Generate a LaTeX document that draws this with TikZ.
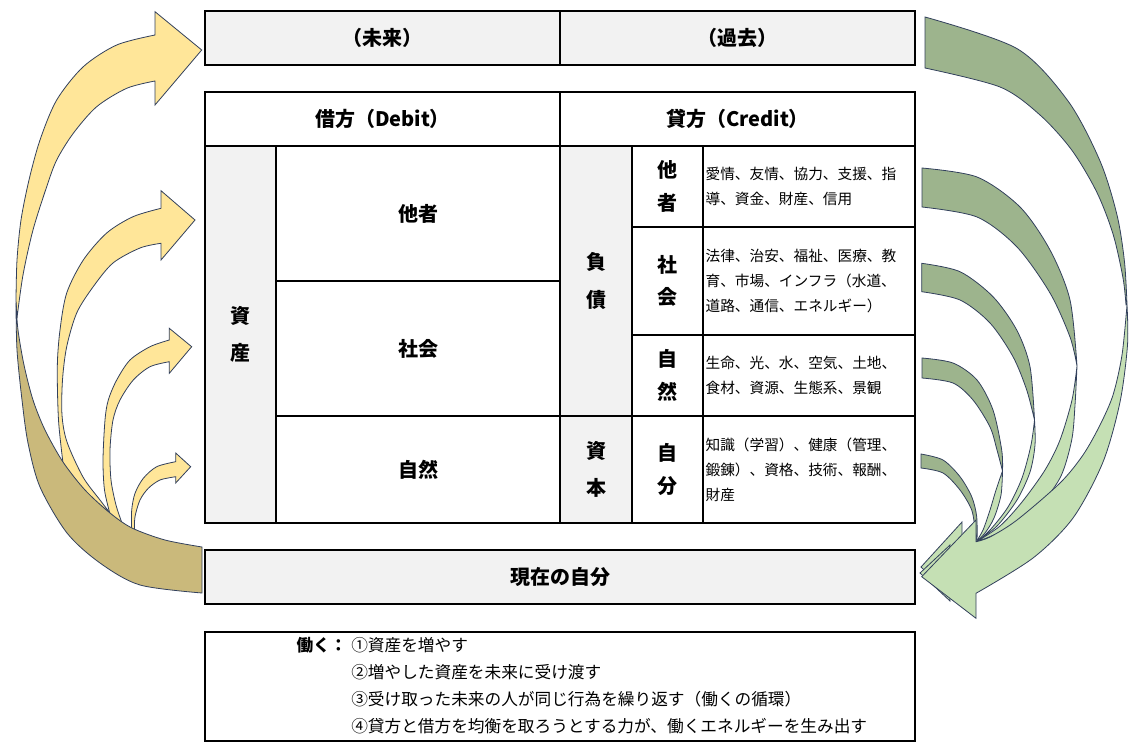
\documentclass[tikz,border=0pt]{standalone}
\usepackage{fontspec}
\setmainfont{Noto Sans CJK JP}
\usepackage{tikz}
\usetikzlibrary{calc}

\definecolor{boxgray}{RGB}{242,242,242}
\definecolor{ayellow}{RGB}{255,230,153}
\definecolor{akhaki}{RGB}{202,185,123}
\definecolor{adark}{RGB}{157,180,141}
\definecolor{alight}{RGB}{197,224,180}
\definecolor{aedge}{RGB}{50,64,92}

\begin{document}
\begin{tikzpicture}[x=0.75pt, y=-0.75pt,
    frame/.style={draw=black, line width=1.6pt},
    rule/.style={draw=black, line width=0.8pt},
    head/.style={font=\bfseries\fontsize{15}{18}\selectfont},
    tall/.style={font=\bfseries\fontsize{15}{28}\selectfont, align=center},
    pair/.style={font=\bfseries\fontsize{15}{24.5}\selectfont, align=center},
    note/.style={font=\fontsize{11}{18.75}\selectfont, align=left, anchor=west, inner sep=1pt},
    memo/.style={font=\fontsize{12.5}{15}\selectfont, anchor=west, inner sep=0pt},
    yarr/.style={fill=ayellow, draw=aedge, line width=0.6pt},
    karr/.style={fill=akhaki, draw=aedge, line width=0.6pt},
    garr/.style={fill=adark, draw=aedge, line width=0.6pt},
    larr/.style={fill=alight, draw=aedge, line width=0.6pt}]
    \useasboundingbox (0,0) rectangle (1141,749);

    % Fills
    \fill[boxgray] (205,11) rectangle (915,65);
    \fill[boxgray] (205,146) rectangle (276,523);
    \fill[boxgray] (560,146) rectangle (632,523);
    \fill[boxgray] (205,550) rectangle (915,604);

    % Lines
    \draw[rule] (276,281) -- (560,281) (276,416) -- (560,416);
    \draw[rule] (632,227) -- (915,227) (632,335) -- (915,335) (703,146) -- (703,523);
    \draw[frame] (205,11) rectangle (915,65) (560,11) -- (560,65);
    \draw[frame] (205,92) rectangle (915,523) (205,146) -- (915,146) (560,92) -- (560,523);
    \draw[frame] (276,146) -- (276,523) (632,146) -- (632,523) (560,416) -- (915,416);
    \draw[frame] (205,550) rectangle (915,604);
    \draw[rule] (205,632) rectangle (915,741);

    % Nodes
    \node[head] (mirai) at (382.5,38) {（未来）};
    \node[head] (kako) at (737.5,38) {（過去）};
    \node[head] (kari) at (382.5,119) {借方（Debit）};
    \node[head] (kashi) at (737.5,119) {貸方（Credit）};
    \node[tall] (shisan) at (240.5,334.5) {資\\産};
    \node[head] (tasha) at (418,213.5) {他者};
    \node[head] (shakai) at (418,348.5) {社会};
    \node[head] (shizen) at (418,469.5) {自然};
    \node[tall] (fusai) at (596,281) {負\\債};
    \node[tall] (shihon) at (596,469.5) {資\\本};
    \node[pair] (tasha2) at (667.5,186.5) {他\\者};
    \node[pair] (shakai2) at (667.5,281) {社\\会};
    \node[pair] (shizen2) at (667.5,375.5) {自\\然};
    \node[pair] (jibun) at (667.5,469.5) {自\\分};
    \node[note] (n1) at (704,186.5) {愛情、友情、協力、支援、指\\導、資金、財産、信用};
    \node[note] (n2) at (704,281) {法律、治安、福祉、医療、教\\育、市場、インフラ（水道、\\道路、通信、エネルギー）};
    \node[note] (n3) at (704,375.5) {生命、光、水、空気、土地、\\食材、資源、生態系、景観};
    \node[note] (n4) at (704,469.5) {知識（学習）、健康（管理、\\鍛錬）、資格、技術、報酬、\\財産};
    \node[head] (genzai) at (560,577) {現在の自分};
    \node[memo, font=\bfseries\fontsize{12.5}{15}\selectfont, anchor=east] (hataraku) at (347,645) {働く：};
    \node[memo] (w1) at (351,645) {①資産を増やす};
    \node[memo] (w2) at (351,672) {②増やした資産を未来に受け渡す};
    \node[memo] (w3) at (351,699) {③受け取った未来の人が同じ行為を繰り返す（働くの循環）};
    \node[memo] (w4) at (351,726) {④貸方と借方を均衡を取ろうとする力が、働くエネルギーを生み出す};

    % Left arrows
    \filldraw[yarr] (155,35) -- (155,11.7) -- (201.7,50) -- (155,105) -- (155,81)
        -- plot[smooth] coordinates {(155,81) (126.7,88.3) (96.7,106.7) (73.3,133.3) (56.7,160) (46.7,186.7) (33,230) (23,275) (17,318)}
        -- plot[smooth] coordinates {(16,300) (17,260) (21,220) (29,180) (40,140) (56.7,100) (83.3,66.7) (116.7,45) (155,35)} -- cycle;
    \filldraw[yarr] (161,208.3) -- (161,190.7) -- (195,220) -- (161,260) -- (161,243.3)
        -- plot[smooth] coordinates {(161,243.3) (140,248) (113,263) (93,287) (76.7,313) (66.7,346.7) (62.5,380) (62,415) (67,442) (83,477) (100,500) (110,513)}
        -- (86,494) -- (63,463)
        -- plot[smooth] coordinates {(63,463) (58.5,420) (57.3,366.7) (60,330) (66.7,293) (83.3,260) (106.7,233) (133,216.7) (161,208.3)} -- cycle;
    \filldraw[yarr] (169.3,340) -- (169.3,328.3) -- (191.7,346.7) -- (169.3,373.3) -- (169.3,361.7)
        -- plot[smooth] coordinates {(169.3,361.7) (150,366.7) (133.3,380) (120,400) (113,420) (110,450) (111,480) (116,505) (122,523)}
        -- (110,514)
        -- plot[smooth] coordinates {(110,514) (104.5,490) (103,460) (105,420) (108.3,400) (116.7,380) (130,360) (150,346.7) (169.3,340)} -- cycle;
    \filldraw[yarr] (175.7,461.7) -- (175.7,453) -- (190.7,466.7) -- (175.7,483) -- (175.7,476.7)
        -- plot[smooth] coordinates {(175.7,476.7) (160,480) (148.3,488.3) (140,500) (135,516.7) (134.5,530)}
        -- (131.5,530)
        -- plot[smooth] coordinates {(131.5,530) (131.7,510) (135,493.3) (143.3,478.3) (156.7,466.7) (175.7,461.7)} -- cycle;
    \filldraw[karr] plot[smooth] coordinates {(16,303) (18,330) (24,365) (33,400) (45,430) (63,462) (85,490) (110,513) (132,528) (165,540) (202,547)}
        -- (202,593)
        -- plot[smooth] coordinates {(202,593) (140,585) (100,563) (67,533) (40,487) (28,443) (22,400) (17,350) (16,303)} -- cycle;

    % Right arrows
    \filldraw[garr] plot[smooth] coordinates {(921,454) (943,460) (960,476.7) (971.7,496.7) (976.7,516.7) (977,542)}
        -- plot[smooth] coordinates {(975,530) (971.7,510) (960,490) (943,473) (921,468)} -- cycle;
    \filldraw[garr] plot[smooth] coordinates {(922,358) (953,363) (977,380) (993,410) (1001.7,450) (1002.5,471)}
        -- plot[smooth] coordinates {(1002.5,471) (997,450) (990,427) (973,400) (953,383) (922,378)} -- cycle;
    \filldraw[larr] plot[smooth] coordinates {(1002.5,471) (1001,495) (994,518) (985,533) (976,542)}
        -- plot[smooth] coordinates {(976,542) (983,530) (990,510) (996,490) (1002.5,471)} -- cycle;
    \filldraw[garr] plot[smooth] coordinates {(921.7,263.3) (960,271.7) (993,296.7) (1016.7,330) (1030,366.7) (1034.5,420)}
        -- plot[smooth] coordinates {(1034.5,420) (1026.7,390) (1013,356.7) (990,323) (960,300) (921.7,291.7)} -- cycle;
    \filldraw[larr] plot[smooth] coordinates {(1034.5,420) (1035,445) (1030,472) (1017,500) (997,526) (976,542)}
        -- plot[smooth] coordinates {(976,542) (990,530) (1008,507) (1022,478) (1031,445) (1034.5,420)} -- cycle;
    \filldraw[garr] plot[smooth] coordinates {(922,168) (977,177) (1020,207) (1050,250) (1070,300) (1077,366)}
        -- plot[smooth] coordinates {(1077,366) (1070,337) (1050,293) (1017,247) (977,217) (922,207)} -- cycle;
    \filldraw[larr] plot[smooth] coordinates {(1077,366) (1075,405) (1071.7,440) (1060,478) (1035,510) (1000,532) (976,542)}
        -- plot[smooth] coordinates {(976,542) (1000,526) (1022,502) (1045,470) (1060,440) (1072,400) (1077,366)} -- cycle;
    \filldraw[garr] plot[smooth] coordinates {(925,17) (1017,48.6) (1068,101) (1100,161) (1117,215) (1124.5,262) (1127,305)}
        -- plot[smooth] coordinates {(1126,305) (1123,278) (1113,234) (1096.7,192) (1071.7,150) (1040,115) (1000,87) (925,68)} -- cycle;
    \filldraw[larr] (962,522) -- (921,567) -- (962,606) -- cycle;
    \filldraw[larr] (950,545) -- (920,573) -- (950,601) -- cycle;
    \filldraw[larr] plot[smooth] coordinates {(1127,305) (1127.5,345) (1120,402) (1103,462) (1073,518) (1033,558) (976,593.3)}
        -- (976,618.3) -- (921.7,576.7) -- (976,520) -- (976,541.7)
        -- plot[smooth] coordinates {(976,541.7) (990,537) (1017,520) (1060,483) (1083,455) (1100,425) (1113,395) (1122,355) (1127,305)} -- cycle;
\end{tikzpicture}
\end{document}
